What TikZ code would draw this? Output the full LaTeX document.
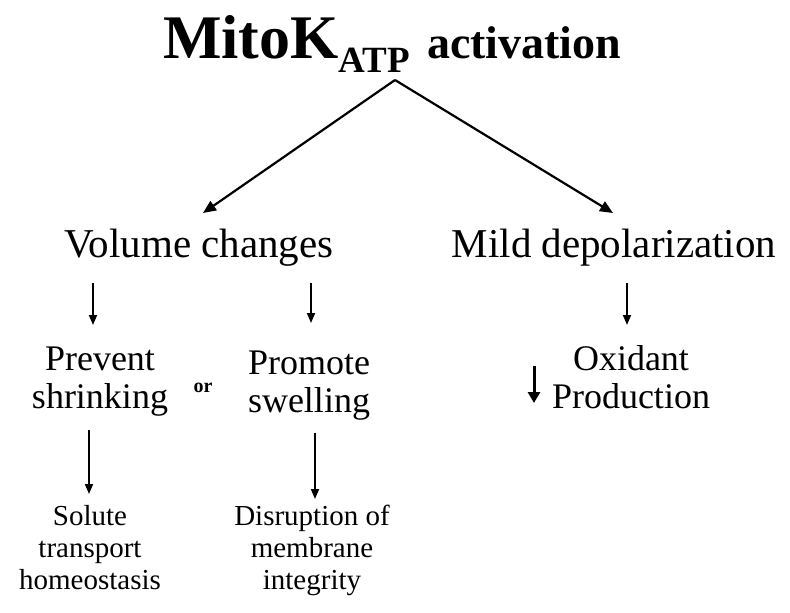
\documentclass[tikz,border=0pt]{standalone}
\usepackage{fontspec}
\setmainfont{Liberation Serif}
\usetikzlibrary{arrows.meta}
\newcommand{\mlines}[1]{\begin{tabular}[t]{@{}c@{}}#1\end{tabular}}
\begin{document}
\begin{tikzpicture}[x=1pt,y=-1pt,
  lbl/.style={inner sep=0pt,anchor=base},
  big/.style={lbl,font=\fontsize{41}{45}\selectfont},
  mid/.style={lbl,font=\fontsize{36}{38}\selectfont},
  small/.style={lbl,font=\fontsize{29}{32}\selectfont},
  mainarr/.style={line width=2.2pt,-{Triangle[length=13pt,width=11pt]}},
  arr/.style={line width=1.8pt,-{Triangle[length=10pt,width=8pt]}},
  thickarr/.style={line width=3pt,-{Triangle[length=11pt,width=12pt]}}]
\useasboundingbox (0,0) rectangle (790,613);
% title
\node[lbl,anchor=base west] (title) at (163,58)
  {\fontsize{62}{62}\selectfont\bfseries MitoK\raisebox{-14pt}{\fontsize{37}{37}\selectfont ATP}\hspace{17pt}{\fontsize{46}{46}\selectfont activation}};
% level 2
\node[big] (vol) at (199,257) {Volume changes};
\node[big] (mild) at (614,257) {Mild depolarization};
% level 3
\node[mid] (prev) at (100,370) {\mlines{Prevent\\shrinking}};
\node[lbl,font=\fontsize{20}{20}\selectfont\bfseries] (or) at (203,392) {or};
\node[mid] (prom) at (309,374) {\mlines{Promote\\swelling}};
\node[mid] (oxi) at (631,370) {\mlines{Oxidant\\Production}};
% level 4
\node[small] (sol) at (90,525) {\mlines{Solute\\transport\\homeostasis}};
\node[small] (dis) at (312,525) {\mlines{Disruption of\\membrane\\integrity}};
% connector ends
\coordinate (apex) at (395,80);
\coordinate (volT) at (203,213);
\coordinate (mildT) at (613,213);
\coordinate (a1s) at (93,283);  \coordinate (a1e) at (93,325);
\coordinate (a2s) at (311,283); \coordinate (a2e) at (311,323);
\coordinate (a3s) at (627,283); \coordinate (a3e) at (627,325);
\coordinate (a4s) at (89,430);  \coordinate (a4e) at (89,494);
\coordinate (a5s) at (315,433); \coordinate (a5e) at (315,499);
\coordinate (dns) at (534,366); \coordinate (dne) at (534,403);
% connectors
\draw[mainarr] (apex) -- (volT);
\draw[mainarr] (apex) -- (mildT);
\draw[arr] (a1s) -- (a1e);
\draw[arr] (a2s) -- (a2e);
\draw[arr] (a3s) -- (a3e);
\draw[arr] (a4s) -- (a4e);
\draw[arr] (a5s) -- (a5e);
\draw[thickarr] (dns) -- (dne);
\end{tikzpicture}
\end{document}
